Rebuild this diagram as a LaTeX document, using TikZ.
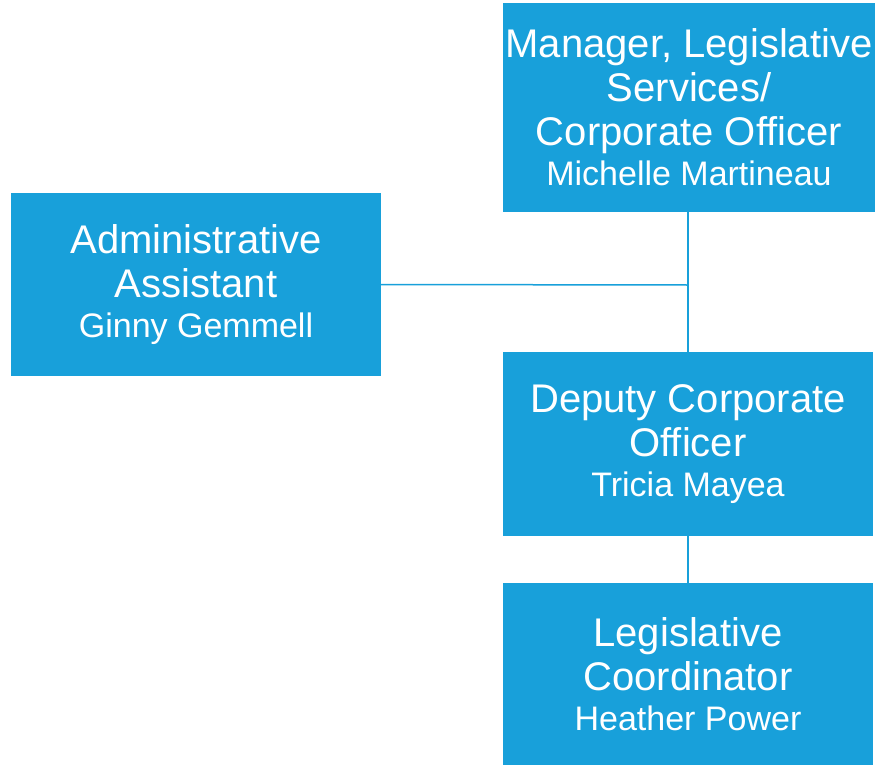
\documentclass[tikz,border=0pt]{standalone}
\usepackage{fontspec}
\setmainfont{Liberation Sans}
\definecolor{boxblue}{HTML}{18A0DA}
\tikzset{
  orgbox/.style={fill=boxblue, draw=none, text=white, inner sep=0pt, align=center,
    font=\fontsize{40}{44}\selectfont},
  link/.style={draw=boxblue, line width=1.5pt}
}
\newcommand{\pname}[1]{{\fontsize{34}{40}\selectfont #1}}
\begin{document}
\begin{tikzpicture}[x=1pt,y=-1pt]
\useasboundingbox (0,0) rectangle (877,765);
\node[orgbox, minimum width=372pt, minimum height=209pt] (mgr) at (689,107.5)
  {Manager, Legislative\\Services/\\Corporate Officer\\[-4pt]\pname{Michelle Martineau}};
\node[orgbox, minimum width=370pt, minimum height=183pt] (adm) at (196,284.5)
  {Administrative\\Assistant\\[-4pt]\pname{Ginny Gemmell}};
\node[orgbox, minimum width=370pt, minimum height=184pt] (dep) at (688,444)
  {Deputy Corporate\\Officer\\[-4pt]\pname{Tricia Mayea}};
\node[orgbox, minimum width=370pt, minimum height=182pt] (leg) at (688,674)
  {Legislative\\Coordinator\\[-4pt]\pname{Heather Power}};
\coordinate (j) at (688,285);
\draw[link] (dep.north |- mgr.south) -- (dep.north);
\draw[link] (adm.east) -- (j);
\draw[link] (dep.south) -- (leg.north);
\end{tikzpicture}
\end{document}
